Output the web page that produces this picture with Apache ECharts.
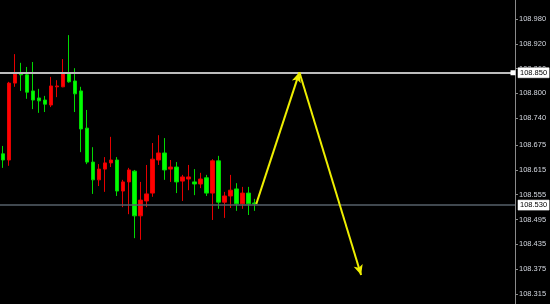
<!DOCTYPE html>
<html>
<head>
<meta charset="utf-8">
<script src="https://cdn.jsdelivr.net/npm/echarts@6/dist/echarts.min.js"></script>
<style>
html,body{margin:0;padding:0;background:#000;}
#c{width:550px;height:304px;}
</style>
</head>
<body>
<div id="c"></div>
<script>
// Candles: [open, close, low, high]  (red = rising, green = falling)
const candles = [
  [108.654,108.639,108.620,108.673],
  [108.639,108.825,108.625,108.828],
  [108.825,108.847,108.816,108.895],
  [108.849,108.845,108.806,108.874],
  [108.845,108.803,108.787,108.864],
  [108.806,108.784,108.762,108.876],
  [108.789,108.782,108.753,108.811],
  [108.784,108.774,108.755,108.794],
  [108.772,108.818,108.767,108.840],
  [108.816,108.818,108.791,108.832],
  [108.816,108.849,108.815,108.883],
  [108.849,108.828,108.826,108.941],
  [108.830,108.799,108.755,108.861],
  [108.806,108.714,108.658,108.816],
  [108.716,108.634,108.629,108.760],
  [108.634,108.591,108.557,108.670],
  [108.591,108.617,108.576,108.629],
  [108.617,108.632,108.562,108.646],
  [108.632,108.639,108.622,108.695],
  [108.639,108.564,108.552,108.646],
  [108.564,108.586,108.525,108.591],
  [108.586,108.615,108.508,108.620],
  [108.612,108.504,108.450,108.615],
  [108.504,108.542,108.446,108.586],
  [108.540,108.557,108.525,108.627],
  [108.559,108.641,108.550,108.680],
  [108.639,108.656,108.627,108.699],
  [108.656,108.615,108.591,108.692],
  [108.617,108.622,108.586,108.639],
  [108.622,108.586,108.559,108.634],
  [108.588,108.598,108.540,108.603],
  [108.593,108.598,108.566,108.627],
  [108.586,108.581,108.554,108.617],
  [108.581,108.593,108.571,108.608],
  [108.596,108.559,108.552,108.603],
  [108.559,108.637,108.494,108.641],
  [108.637,108.537,108.521,108.649],
  [108.537,108.552,108.499,108.562],
  [108.552,108.566,108.523,108.603],
  [108.569,108.533,108.516,108.583],
  [108.533,108.559,108.521,108.574],
  [108.559,108.533,108.506,108.574],
  [108.535,108.533,108.516,108.545]
];
const totalSlots = 86;          // candle slots incl. empty future space
const tickLabels = ['108.980','108.920','108.860','108.800','108.740','108.675','108.615','108.555','108.495','108.435','108.375','108.315'];
const priceLevels = [108.850, 108.530];
// Forecast arrow path: [slot index, price]
const arrowPath = [[42.3, 108.533], [49.5, 108.851], [59.8, 108.361]];
const yMin = 108.2908, yMax = 109.0259;

const categories = [];
for (let i = 0; i < totalSlots; i++) categories.push(String(i));
const tickValues = tickLabels.map(Number);
const FONT = 'Liberation Sans, Arial, sans-serif';

const chart = echarts.init(document.getElementById('c'), null, {renderer: 'canvas'});
chart.setOption({
  backgroundColor: '#000000',
  animation: false,
  grid: {left: 0, right: 35, top: 0, bottom: 0},
  xAxis: [
    {type: 'category', data: categories, show: false, boundaryGap: true},
    {type: 'value', min: -0.5, max: totalSlots - 0.5, show: false}
  ],
  yAxis: {
    type: 'value', position: 'right', min: yMin, max: yMax, scale: true,
    splitLine: {show: false},
    axisLine: {show: true, onZero: false, lineStyle: {color: '#8a8a8a', width: 1}},
    axisTick: {show: true, length: 3, inside: false, customValues: tickValues, lineStyle: {color: '#8a8a8a'}},
    axisLabel: {
      show: true, customValues: tickValues, margin: 4,
      color: '#d4d8e0', fontSize: 7.5, fontFamily: FONT,
      formatter: v => v.toFixed(3)
    }
  },
  series: [
    {
      type: 'candlestick',
      xAxisIndex: 0,
      data: candles,
      barWidth: 4,
      itemStyle: {
        color: '#ff0000', color0: '#00ff00',
        borderColor: '#e60000', borderColor0: '#00d800', borderWidth: 1
      },
      markLine: {
        silent: true, animation: false,
        symbol: ['none', 'none'],
        data: [
          {yAxis: priceLevels[0], lineStyle: {color: '#bcbcbc', width: 2, type: 'solid'}},
          {yAxis: priceLevels[1], lineStyle: {color: '#56606a', width: 1.5, type: 'solid'}}
        ],
        label: {
          show: true, position: 'end', distance: 3,
          formatter: p => Number(p.value).toFixed(3),
          backgroundColor: '#ffffff', color: '#000000',
          fontSize: 7.5, fontFamily: FONT,
          padding: [1, 2, 1, 2], borderColor: '#888', borderWidth: 0.5
        }
      },
      markPoint: {
        silent: true, animation: false,
        symbol: 'rect', symbolSize: [5, 5],
        itemStyle: {color: '#ffffff'},
        label: {show: false},
        data: [{coord: [totalSlots - 1, priceLevels[0]], symbolOffset: [1, 0]}]
      }
    },
    {
      type: 'line',
      xAxisIndex: 1,
      data: [],
      markLine: {
        silent: true, animation: false,
        symbol: ['none', 'arrow'], symbolSize: [7, 10],
        label: {show: false},
        lineStyle: {color: '#eeee00', width: 2, type: 'solid'},
        data: [
          [{coord: arrowPath[0]}, {coord: arrowPath[1]}],
          [{coord: arrowPath[1]}, {coord: arrowPath[2]}]
        ]
      }
    }
  ]
});
</script>
</body>
</html>
